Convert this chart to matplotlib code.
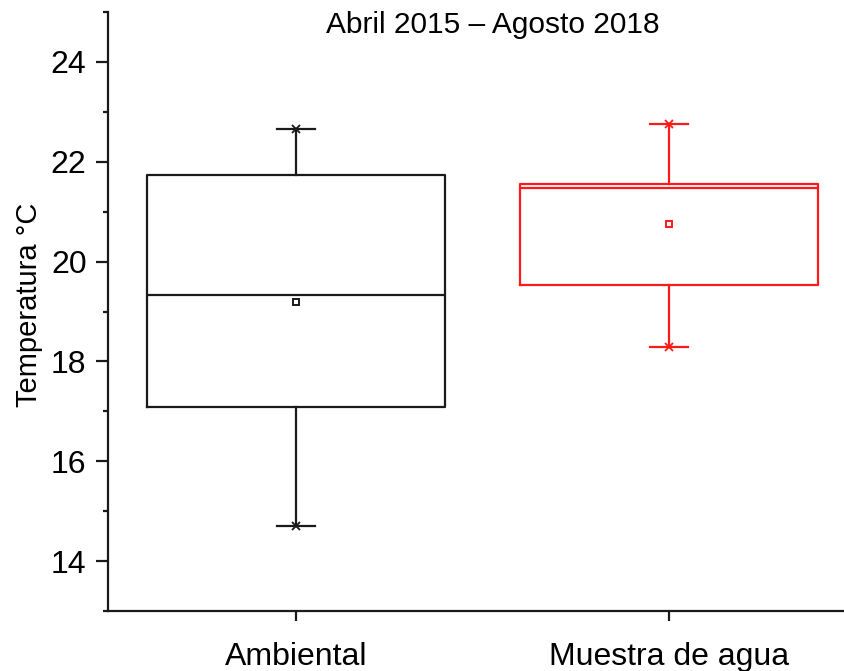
import matplotlib
matplotlib.use("Agg")
import matplotlib.pyplot as plt
from matplotlib.ticker import MultipleLocator

plt.rcParams['font.family'] = ['Liberation Sans', 'DejaVu Sans']

# Summary statistics of temperature (°C), April 2015 – August 2018
categories = ["Ambiental", "Muestra de agua"]
q1 = [17.08, 19.54]
median = [19.34, 21.48]
q3 = [21.74, 21.56]
whisker_low = [14.70, 18.29]
whisker_high = [22.65, 22.76]
mean = [19.20, 20.75]
colors = ["#1a1a1a", "#ff1a1a"]

fig = plt.figure(figsize=(8.44, 6.71), dpi=100)
ax = fig.add_axes([0.128, 0.0894, 0.872, 0.8927])

positions = [1, 2]
for i, pos in enumerate(positions):
    stats = [dict(med=median[i], q1=q1[i], q3=q3[i],
                  whislo=whisker_low[i], whishi=whisker_high[i],
                  mean=mean[i], fliers=[])]
    c = colors[i]
    lw = 1.6
    ax.bxp(stats, positions=[pos], widths=0.8, capwidths=0.1,
           showmeans=True, showfliers=False, patch_artist=False,
           boxprops=dict(color=c, linewidth=lw),
           medianprops=dict(color=c, linewidth=lw),
           whiskerprops=dict(color=c, linewidth=lw),
           capprops=dict(color=c, linewidth=lw),
           meanprops=dict(marker='s', markerfacecolor='white',
                          markeredgecolor=c, markersize=5,
                          markeredgewidth=1.4))
    # min / max markers at whisker ends
    ax.plot([pos, pos], [whisker_low[i], whisker_high[i]], linestyle='none',
            marker='x', color=c, markersize=6, markeredgewidth=1.3)

ax.set_xlim(0.496, 2.469)
ax.set_ylim(13, 25)
ax.set_xticks(positions)
ax.set_xticklabels(categories)
ax.yaxis.set_major_locator(MultipleLocator(2))
ax.yaxis.set_minor_locator(MultipleLocator(1))
ax.set_yticks([14, 16, 18, 20, 22, 24])

for side in ("top", "right"):
    ax.spines[side].set_visible(False)
for side in ("left", "bottom"):
    ax.spines[side].set_linewidth(1.6)
    ax.spines[side].set_color("#1a1a1a")

ax.tick_params(axis='y', which='major', direction='out', length=8.5,
               width=1.6, color="#1a1a1a", labelsize=23, pad=7)
ax.tick_params(axis='y', which='minor', direction='out', length=3.6,
               width=1.6, color="#1a1a1a")
ax.tick_params(axis='x', which='major', direction='out', length=7,
               width=1.6, color="#1a1a1a", labelsize=23, pad=15)

ax.set_ylabel("Temperatura °C", fontsize=21)
ax.yaxis.set_label_coords(-0.088, 0.512)
ax.text(0.523, 0.965, "Abril 2015 – Agosto 2018", transform=ax.transAxes,
        ha='center', va='baseline', fontsize=21.5)

fig.savefig("out.png", dpi=100)
